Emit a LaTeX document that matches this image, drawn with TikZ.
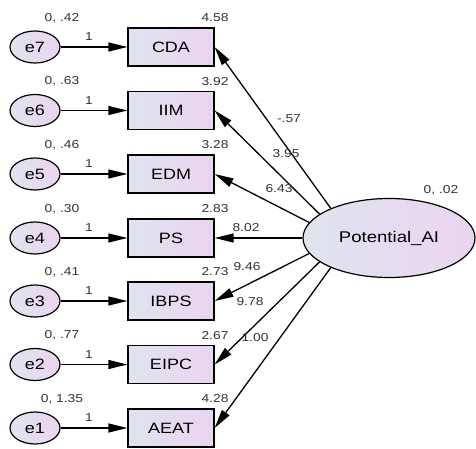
\documentclass[tikz,border=0pt]{standalone}
\usepackage{fontspec}
\setmainfont{Liberation Sans}[FakeStretch=1.2]
\usepackage{tikz}
\usetikzlibrary{arrows.meta}
\usetikzlibrary{shapes.geometric}

\begin{document}
\begin{tikzpicture}[x=1pt, y=1pt,
	errvar/.style={ellipse, draw, line width=1.2pt, left color=fillL, right color=fillR, minimum width=50pt, minimum height=32pt, inner sep=0pt, font=\fontsize{15}{17}\selectfont},
	obsvar/.style={rectangle, draw, line width=1.2pt, left color=fillL, right color=fillR, minimum width=86pt, minimum height=38pt, inner sep=0pt, font=\fontsize{15}{17}\selectfont},
	path/.style={line width=1.3pt, -{Triangle[length=19pt, width=9pt]}},
	est/.style={font=\fontsize{11.5}{13}\selectfont, text=black!80, inner sep=0pt}]
		
		\definecolor{fillL}{HTML}{DFE4EE}
		\definecolor{fillR}{HTML}{EBD4F1}
		
		\useasboundingbox (0,0) rectangle (476,448);
		
		% Latent factor
		\node[ellipse, draw, line width=1.2pt, left color=fillL, right color=fillR, minimum width=172pt, minimum height=79pt, inner sep=0pt, font=\fontsize{15.5}{18}\selectfont] (pot) at (389,210) {Potential\_AI};
		\node[est] at (441,258) {0, .02};
		
		% Indicators with their error terms
		\foreach \name/\lbl/\err/\y/\var/\icpt/\ang in {
			cda/CDA/e7/401/{0, .42}/4.58/153,
			iim/IIM/e6/337.5/{0, .63}/3.92/161,
			edm/EDM/e5/274/{0, .46}/3.28/169,
			ps/PS/e4/210/{0, .30}/2.83/180,
			ibps/IBPS/e3/147/{0, .41}/2.73/191,
			eipc/EIPC/e2/83.5/{0, .77}/2.67/199,
			aeat/AEAT/e1/20/{0, 1.35}/4.28/207} {
			\node[obsvar] (\name) at (171,\y) {\lbl};
			\node[errvar] (\err) at (35,\y) {\err};
			\draw[path] (\err) -- (\name);
			\node[est] at (89,\y+10) {1};
			\node[est] at (62,\y+29) {\var};
			\node[est] at (215,\y+29) {\icpt};
			\draw[path] (pot.\ang) -- (\name.east);
		}
		
		% Loadings
		\node[est] at (289,329) {-.57};
		\node[est] at (286,294) {3.95};
		\node[est] at (279,259) {6.43};
		\node[est] at (246,220) {8.02};
		\node[est] at (247,181) {9.46};
		\node[est] at (250,146) {9.78};
		\node[est] at (255,110) {1.00};
		
	\end{tikzpicture}
\end{document}
